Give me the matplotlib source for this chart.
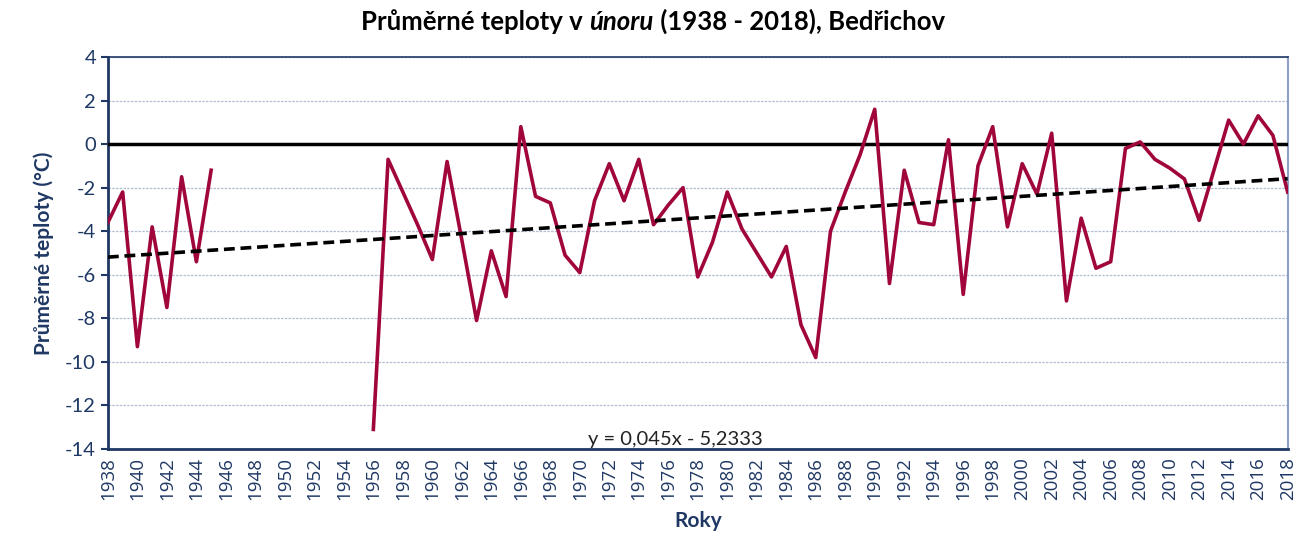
import numpy as np
import matplotlib
matplotlib.use('Agg')
import matplotlib.pyplot as plt

NAVY = '#1F3864'
RED = '#A0063C'

years = list(range(1938, 2019))
# average February temperatures, None = missing years (1946-1955)
temps = [-3.6, -2.2, -9.3, -3.8, -7.5, -1.5, -5.4, -1.2,
         None, None, None, None, None, None, None, None, None, None,
         -13.1, -0.7, -2.2, -3.7, -5.3, -0.8, -4.4, -8.1, -4.9, -7.0,
         0.8, -2.4, -2.7, -5.1, -5.9, -2.6, -0.9, -2.6, -0.7, -3.7,
         -2.8, -2.0, -6.1, -4.5, -2.2, -3.9, -5.0, -6.1, -4.7, -8.3,
         -9.8, -4.0, -2.2, -0.5, 1.6, -6.4, -1.2, -3.6, -3.7, 0.2,
         -6.9, -1.0, 0.8, -3.8, -0.9, -2.3, 0.5, -7.2, -3.4, -5.7,
         -5.4, -0.2, 0.1, -0.7, -1.1, -1.6, -3.5, -1.2, 1.1, 0.0,
         1.3, 0.4, -2.2]
trend_a = 0.045
trend_b = -5.2333
trend_label = 'y = 0,045x - 5,2333'
yticks = list(range(-14, 5, 2))
xticks = list(range(1938, 2019, 2))

plt.rcParams['font.family'] = ['Lato', 'DejaVu Sans']
plt.rcParams['axes.unicode_minus'] = False

fig = plt.figure(figsize=(13, 5.5), dpi=100)
ax = fig.add_axes([0.083, 0.1836, 0.9075, 0.7128])

y = np.array([np.nan if t is None else t for t in temps])
x = np.array(years)
ax.plot(x, y, color=RED, lw=2.6, zorder=4)

# linear trend (x = index from 1)
idx = np.arange(1, len(years) + 1)
ax.plot(x, trend_a * idx + trend_b, color='black', lw=2.6, ls=(0, (3, 1.6)), zorder=5)
ax.axhline(0, color='black', lw=2.5, zorder=3)

ax.set_xlim(1938, 2018)
ax.set_ylim(-14, 4)
ax.set_yticks(yticks)
ax.set_xticks(xticks)
ax.set_xticklabels([str(v) for v in xticks], rotation=90, family=['Open Sans', 'DejaVu Sans'])
ax.tick_params(axis='y', colors=NAVY, labelsize=14.5, length=5, width=1.5, direction='out')
ax.tick_params(axis='x', colors=NAVY, labelsize=13.5, length=0, pad=6)
ax.grid(axis='y', color='#B4BCD4', lw=0.9, ls=(0, (2, 1)))
ax.set_axisbelow(True)

for s in ['left', 'bottom']:
    ax.spines[s].set_color(NAVY)
    ax.spines[s].set_linewidth(2)
ax.spines['top'].set_color(NAVY)
ax.spines['top'].set_linewidth(1.2)
ax.spines['right'].set_color('#8EA0C8')
ax.spines['right'].set_linewidth(1.5)

ax.set_ylabel('Průměrné teploty (°C)', color=NAVY, fontsize=15, fontweight='bold', labelpad=8)
ax.set_xlabel('Roky', color=NAVY, fontsize=15, fontweight='bold', labelpad=8)

ax.text(1976.5, -13.55, trend_label, fontsize=14.5, ha='center', va='center', color='#222222')

# title with italic month name, built from pieces
t1 = fig.text(0.27, 0.945, 'Průměrné teploty v ', fontsize=18.5, fontweight='bold', va='baseline')
t2 = fig.text(0, 0, 'únoru', fontsize=18.5, fontweight='bold', style='italic', va='baseline')
t3 = fig.text(0, 0, ' (1938 - 2018), Bedřichov', fontsize=18.5, fontweight='bold', va='baseline')
fig.canvas.draw()
r = fig.canvas.get_renderer()
w1 = t1.get_window_extent(r).width
w2 = t2.get_window_extent(r).width
w3 = t3.get_window_extent(r).width
left = 653 - (w1 + w2 + w3) / 2
W = fig.bbox.width
t1.set_x(left / W)
t2.set_x((left + w1) / W)
t2.set_y(0.945)
t3.set_x((left + w1 + w2) / W)
t3.set_y(0.945)

fig.savefig('out.png', dpi=100)
